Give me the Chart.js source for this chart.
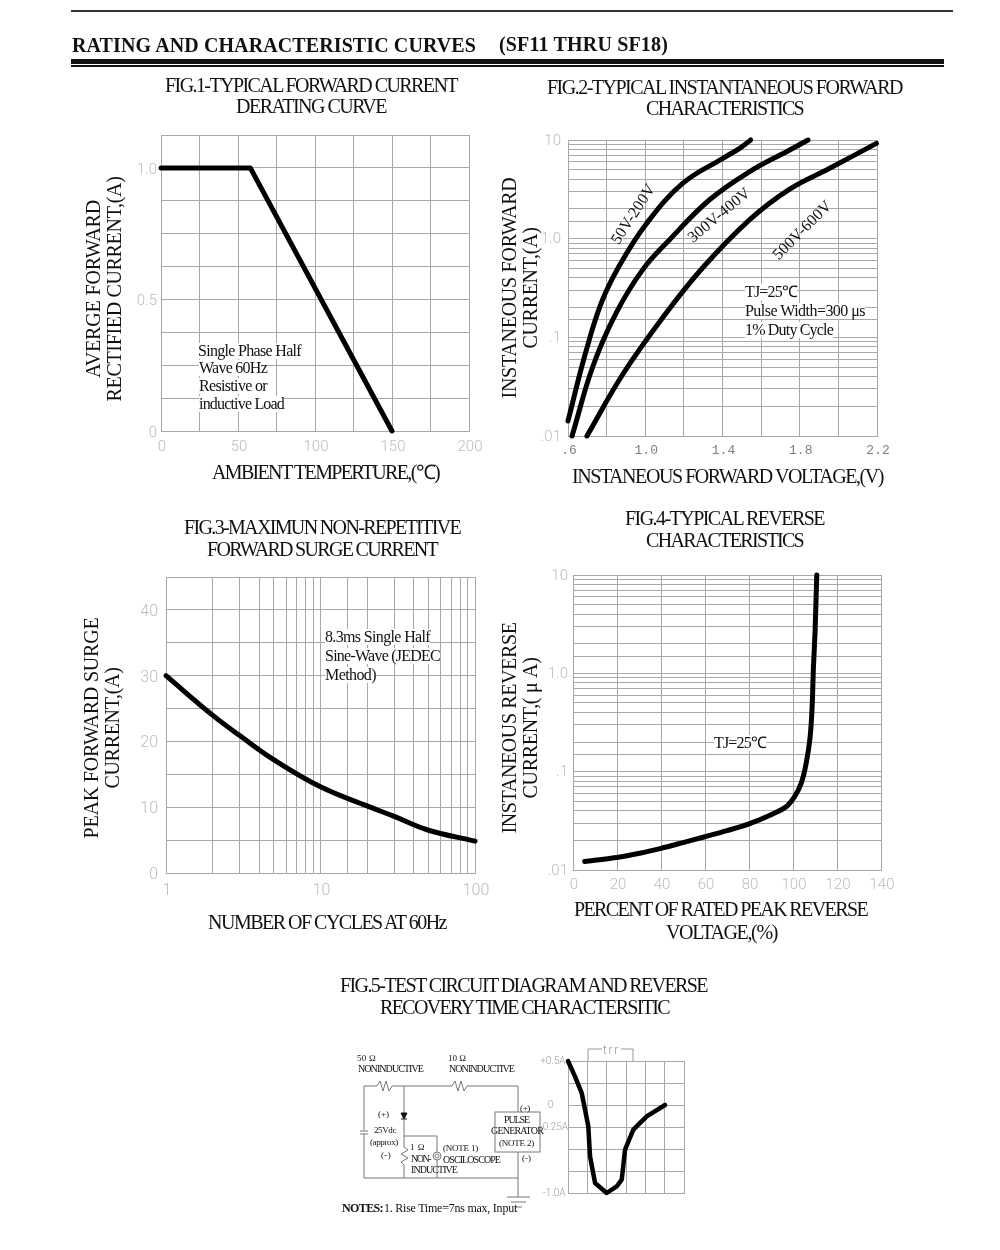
<!DOCTYPE html>
<html>
<head>
<meta charset="utf-8">
<title>SF11 thru SF18 curves</title>
<script src="https://cdn.jsdelivr.net/npm/chart.js@4"></script>
<style>
html,body{margin:0;padding:0;background:#fff;}
#page{position:relative;width:1000px;height:1250px;overflow:hidden;background:#fff;}
#page canvas,#page svg{position:absolute;}
.t{position:absolute;white-space:nowrap;color:#111;font-family:"Liberation Serif",serif;line-height:1;}
.bar{position:absolute;background:#111;}
</style>
</head>
<body>
<div id="page">
  <div class="bar" style="left:71px;top:10px;width:882px;height:2px;background:#333"></div>
  <div class="bar" style="left:71px;top:59px;width:873px;height:5px"></div>
  <div class="bar" style="left:71px;top:65px;width:873px;height:2px"></div>
  <svg id="circuit" width="1000" height="1250" style="left:0;top:0" fill="none" stroke="#777" stroke-width="1">
    <polyline points="364,1086 377,1086 380,1081 383,1091 386,1081 389,1091 392,1086 452,1086 455,1081 458,1091 461,1081 464,1091 467,1086 518,1086 518,1112"/>
    <line x1="364" y1="1086" x2="364" y2="1130"/>
    <line x1="364" y1="1134" x2="364" y2="1178"/>
    <line x1="360" y1="1131" x2="368" y2="1131"/>
    <line x1="360" y1="1134" x2="368" y2="1134"/>
    <line x1="364" y1="1178" x2="518" y2="1178"/>
    <rect x="495" y="1112" width="45" height="40"/>
    <line x1="518" y1="1152" x2="518" y2="1197"/>
    <line x1="507" y1="1197" x2="530" y2="1197"/>
    <line x1="511" y1="1202" x2="526" y2="1202"/>
    <line x1="515" y1="1207" x2="522" y2="1207"/>
    <line x1="404" y1="1086" x2="404" y2="1113"/>
    <polygon points="401,1113 407,1113 404,1119" fill="#111" stroke="#111"/>
    <line x1="401" y1="1119" x2="407" y2="1119" stroke="#111"/>
    <polyline points="404,1119 404,1136 437,1136 437,1152"/>
    <polyline points="404,1136 404,1147 408,1150 401,1154 408,1158 401,1162 404,1165 404,1178"/>
    <line x1="437" y1="1160" x2="437" y2="1178"/>
    <circle cx="437" cy="1156" r="4"/>
    <circle cx="437" cy="1156" r="2"/>
    <polyline points="588,1061 588,1049 602,1049" stroke="#999"/>
    <polyline points="621,1049 633,1049 633,1061" stroke="#999"/>
  </svg>
</div>
<script>
// fig 1
const fig1Temp = [0, 58, 150];
const fig1Amps = [1.0, 1.0, 0];
const fig1XTicks = [0, 50, 100, 150, 200];
const fig1YTicks = [0, 0.5, 1.0];

// fig 2
const fig2Volt1 = [0.6, 0.686, 0.772, 0.867, 1.005, 1.195, 1.402, 1.489, 1.546];
const fig2Amps1 = [0.0142, 0.0643, 0.222, 0.537, 1.41, 3.65, 6.53, 8.24, 10];
const fig2Volt2 = [0.621, 0.729, 0.849, 0.986, 1.126, 1.333, 1.541, 1.748, 1.843];
const fig2Amps2 = [0.01, 0.0509, 0.176, 0.483, 0.977, 2.48, 4.79, 7.92, 10];
const fig2Volt3 = [0.698, 0.883, 1.089, 1.295, 1.541, 1.748, 1.955, 2.197];
const fig2Amps3 = [0.01, 0.042, 0.157, 0.501, 1.56, 3.18, 5.17, 9.25];
const fig2XTicks = ['.6', '1.0', '1.4', '1.8', '2.2'];

// fig 3
const fig3Cycles = [1, 2, 3, 5, 10, 20, 30, 50, 100];
const fig3Amps = [30, 24, 20.9, 17.2, 13.1, 10.2, 8.6, 6.5, 4.85];
const fig3YTicks = [0, 10, 20, 30, 40];

// fig 4
const fig4Percent = [5.3, 19.7, 30.3, 40, 50, 60, 70, 80, 90.8, 96.9, 100.7, 103.7, 106, 107.8, 108.7, 109.3, 110, 110.8];
const fig4Amps = [0.0122, 0.0134, 0.0148, 0.0166, 0.019, 0.0218, 0.0251, 0.0294, 0.0371, 0.044, 0.0557, 0.076, 0.122, 0.227, 0.458, 1.17, 2.55, 10];
const fig4XTicks = [0, 20, 40, 60, 80, 100, 120, 140];

// fig 5 waveform, x is in grid divisions
const fig5Div = [0, 0.36, 0.71, 1.05, 1.14, 1.4, 2, 2.52, 2.78, 2.95, 3.38, 4.07, 5.02];
const fig5Amps = [0.5, 0.326, 0.136, -0.242, -0.583, -0.886, -1.0, -0.924, -0.848, -0.508, -0.28, -0.129, 0];
const fig5YTicks = {'0.5': '+0.5A ', '0': '0      ', '-0.25': '-0.25A', '-1': '-1.0A '};

// labels for the log axes
const logTicks = {'0.01': '.01', '0.1': '.1', '1': '1.0', '10': '10'};
const cycleTicks = {'1': '1', '10': '10', '100': '100'};

const page = document.getElementById('page');
const GRAY = '#bcbcbc';
const GRID = '#a8a8a8';
const LEFT = 50, TOP = 24, RIGHT = 40, BOTTOM = 36;

function points(xs, ys){
  return xs.map((x, i) => ({x: x, y: ys[i]}));
}

function curve(xs, ys, width, tension){
  return {
    data: points(xs, ys),
    borderColor: '#000',
    borderWidth: width,
    pointRadius: 0,
    showLine: true,
    clip: false,
    borderCapStyle: 'round',
    borderJoinStyle: 'round',
    tension: tension
  };
}

// rect is the plot area on the page: left, top, right, bottom
function figure(rect, datasets, x, y){
  const c = document.createElement('canvas');
  const w = rect[2] - rect[0], h = rect[3] - rect[1];
  c.width = w + LEFT + RIGHT;
  c.height = h + TOP + BOTTOM;
  c.style.left = (rect[0] - LEFT) + 'px';
  c.style.top = (rect[1] - TOP) + 'px';
  page.appendChild(c);
  const axis = (o, fit) => Object.assign({
    border: {color: GRID},
    grid: {color: GRID, lineWidth: 1, drawTicks: false},
    afterFit: fit
  }, o);
  return new Chart(c.getContext('2d'), {
    type: 'scatter',
    data: {datasets: datasets},
    options: {
      responsive: false,
      animation: false,
      layout: {padding: {left: 0, top: TOP, right: RIGHT, bottom: 0}},
      plugins: {legend: {display: false}, tooltip: {enabled: false}},
      scales: {
        x: axis(x, s => { s.height = BOTTOM; }),
        y: axis(y, s => { s.width = LEFT; })
      }
    }
  });
}

function tickStyle(cb, padding, size, extra){
  return Object.assign({
    callback: cb,
    autoSkip: false,
    maxRotation: 0,
    minRotation: 0,
    padding: padding,
    color: GRAY,
    font: {family: 'Roboto', weight: '300', size: size}
  }, extra || {});
}
const fromList = list => v => list.some(t => Math.abs(t - v) < 1e-6) ? String(v) : '';
const fromMap = map => v => map[String(+v.toPrecision(6))] || '';

figure([161, 135, 469.7, 431.7], [curve(fig1Temp, fig1Amps, 5, 0)],
  {type: 'linear', min: 0, max: 200, ticks: tickStyle(fromList(fig1XTicks), 7, 15, {stepSize: 25, labelOffset: 1})},
  {type: 'linear', min: 0, max: 1.125, ticks: tickStyle(v => {
    if (Math.abs(v - 1) < 1e-6) return '1.0';
    return fromList(fig1YTicks)(v);
  }, 4, 15, {stepSize: 0.125, labelOffset: 2})});

figure([568.3, 140, 877.3, 436.7], [
    curve(fig2Volt1, fig2Amps1, 5, 0.4),
    curve(fig2Volt2, fig2Amps2, 5, 0.4),
    curve(fig2Volt3, fig2Amps3, 5, 0.4)
  ],
  {type: 'linear', min: 0.6, max: 2.2, ticks: tickStyle(v => {
    const s = v.toFixed(1);
    const hit = fig2XTicks.find(t => parseFloat(t) === parseFloat(s));
    return hit || '';
  }, 7, 13, {stepSize: 0.2, labelOffset: 1, color: '#808080', font: {family: 'Liberation Mono', size: 13}})},
  {type: 'logarithmic', min: 0.01, max: 10, ticks: tickStyle(fromMap(logTicks), 7, 15, {labelOffset: 1})});

figure([166, 577.3, 475, 873.3], [curve(fig3Cycles, fig3Amps, 5, 0.4)],
  {type: 'logarithmic', min: 1, max: 100, ticks: tickStyle(fromMap(cycleTicks), 8, 16, {labelOffset: 1})},
  {type: 'linear', min: 0, max: 45, ticks: tickStyle(fromList(fig3YTicks), 8, 16, {stepSize: 5, labelOffset: 2})});

figure([573.3, 575, 881.7, 870], [curve(fig4Percent, fig4Amps, 5, 0.3)],
  {type: 'linear', min: 0, max: 140, ticks: tickStyle(fromList(fig4XTicks), 6, 15, {stepSize: 20, labelOffset: 1})},
  {type: 'logarithmic', min: 0.01, max: 10, ticks: tickStyle(fromMap(logTicks), 5, 15, {labelOffset: 1})});

figure([568, 1061.3, 684, 1193.3], [curve(fig5Div, fig5Amps, 4.5, 0)],
  {type: 'linear', min: 0, max: 6, ticks: {display: false, stepSize: 1}},
  {type: 'linear', min: -1, max: 0.5, ticks: tickStyle(fromMap(fig5YTicks), 0, 10, {stepSize: 0.25, color: '#a0a0a0'})});

page.appendChild(document.getElementById('circuit'));

// text: letter spacing is fitted to the width the line has in the reference
function put(str, size, width, css){
  const d = document.createElement('div');
  d.className = 't';
  d.textContent = str;
  d.style.fontSize = size + 'px';
  Object.assign(d.style, css || {});
  page.appendChild(d);
  const m = d.getBoundingClientRect().width;
  d.style.letterSpacing = ((width - m) / str.length) + 'px';
  return d;
}
function line(str, x0, x1, y, size, css){
  const d = put(str, size, x1 - x0, css);
  d.style.left = x0 + 'px';
  d.style.top = (y - size / 2) + 'px';
}
function vline(str, x, y0, y1, size){
  const d = put(str, size, y1 - y0);
  const w = d.getBoundingClientRect().width;
  d.style.left = (x - w / 2) + 'px';
  d.style.top = ((y0 + y1) / 2 - size / 2) + 'px';
  d.style.transform = 'rotate(-90deg)';
}
function slant(str, cx, cy, w, size, deg){
  const d = put(str, size, w);
  const m = d.getBoundingClientRect().width;
  d.style.left = (cx - m / 2) + 'px';
  d.style.top = (cy - size / 2) + 'px';
  d.style.transform = 'rotate(' + deg + 'deg)';
}
const BOX = {background: '#fff'};
const SANS = {fontFamily: 'Roboto', fontWeight: '300', color: '#999'};

line('RATING AND CHARACTERISTIC CURVES', 72, 476, 45, 20, {fontWeight: 'bold'});
line('(SF11 THRU SF18)', 499, 668, 44, 20, {fontWeight: 'bold'});

line('FIG.1-TYPICAL FORWARD CURRENT', 165, 457, 85, 20);
line('DERATING CURVE', 236, 386, 106, 20);
vline('AVERGE FORWARD', 93, 200, 378, 20);
vline('RECTIFIED CURRENT,(A)', 113, 176, 401, 20);
line('AMBIENT TEMPERTURE,(℃)', 212, 439, 472, 20);
line('Single Phase Half', 198, 301, 351, 16, BOX);
line('Wave 60Hz', 199, 267, 368, 16, BOX);
line('Resistive or', 199, 267, 386, 16, BOX);
line('inductive Load', 199, 284, 404, 16, BOX);

line('FIG.2-TYPICAL INSTANTANEOUS FORWARD', 547, 902, 87, 20);
line('CHARACTERISTICS', 646, 803, 108, 20);
vline('INSTANEOUS FORWARD', 508, 177, 398, 20);
vline('CURRENT,(A)', 529, 227, 348, 20);
line('INSTANEOUS FORWARD VOLTAGE,(V)', 572, 883, 476, 20);
slant('50V-200V', 633, 214, 68, 16, -57);
slant('300V-400V', 719, 215, 76, 16, -40);
slant('500V-600V', 802, 230, 76, 16, -45);
line('TJ=25℃', 745, 797, 292, 16, BOX);
line('Pulse Width=300 μs', 745, 865, 311, 16, BOX);
line('1% Duty Cycle', 745, 833, 330, 16, BOX);

line('FIG.3-MAXIMUN NON-REPETITIVE', 184, 460, 527, 20);
line('FORWARD SURGE CURRENT', 207, 437, 549, 20);
vline('PEAK FORWARD SURGE', 90, 617, 838, 20);
vline('CURRENT,(A)', 111, 667, 788, 20);
line('NUMBER OF CYCLES AT 60Hz', 208, 446, 922, 20);
line('8.3ms Single Half', 325, 430, 637, 16, BOX);
line('Sine-Wave (JEDEC', 325, 440, 656, 16, BOX);
line('Method)', 325, 376, 675, 16, BOX);

line('FIG.4-TYPICAL REVERSE', 625, 824, 518, 20);
line('CHARACTERISTICS', 646, 803, 540, 20);
vline('INSTANEOUS REVERSE', 508, 622, 833, 20);
vline('CURRENT,( μ A)', 529, 657, 798, 20);
line('PERCENT OF RATED PEAK REVERSE', 574, 867, 909, 20);
line('VOLTAGE,(%)', 666, 777, 932, 20);
line('TJ=25℃', 714, 766, 743, 16, BOX);

line('FIG.5-TEST CIRCUIT DIAGRAM AND REVERSE', 340, 707, 985, 20);
line('RECOVERY TIME CHARACTERSITIC', 380, 669, 1007, 20);
line('50 Ω', 357, 376, 1058, 9);
line('NONINDUCTIVE', 358, 423, 1069, 10);
line('10 Ω', 448, 466, 1058, 9);
line('NONINDUCTIVE', 449, 514, 1069, 10);
line('(+)', 378, 389, 1114, 9);
line('25Vdc', 374, 396, 1130, 9);
line('(approx)', 370, 398, 1142, 9);
line('(-)', 381, 391, 1155, 9);
line('1 Ω', 410, 425, 1147, 9);
line('NON-', 411, 430, 1159, 10);
line('INDUCTIVE', 411, 457, 1170, 10);
line('(NOTE 1)', 443, 478, 1148, 9);
line('OSCILOSCOPE', 443, 500, 1160, 10);
line('(+)', 520, 530, 1108, 9);
line('PULSE', 504, 529, 1120, 10);
line('GENERATOR', 491, 543, 1131, 10);
line('(NOTE 2)', 499, 534, 1143, 9);
line('(-)', 522, 531, 1158, 9);
line('trr', 603, 620, 1050, 12, SANS);
line('NOTES:', 342, 383, 1208, 12, {fontWeight: 'bold'});
line('1. Rise Time=7ns max, Input', 384, 517, 1208, 12);
</script>
</body>
</html>
